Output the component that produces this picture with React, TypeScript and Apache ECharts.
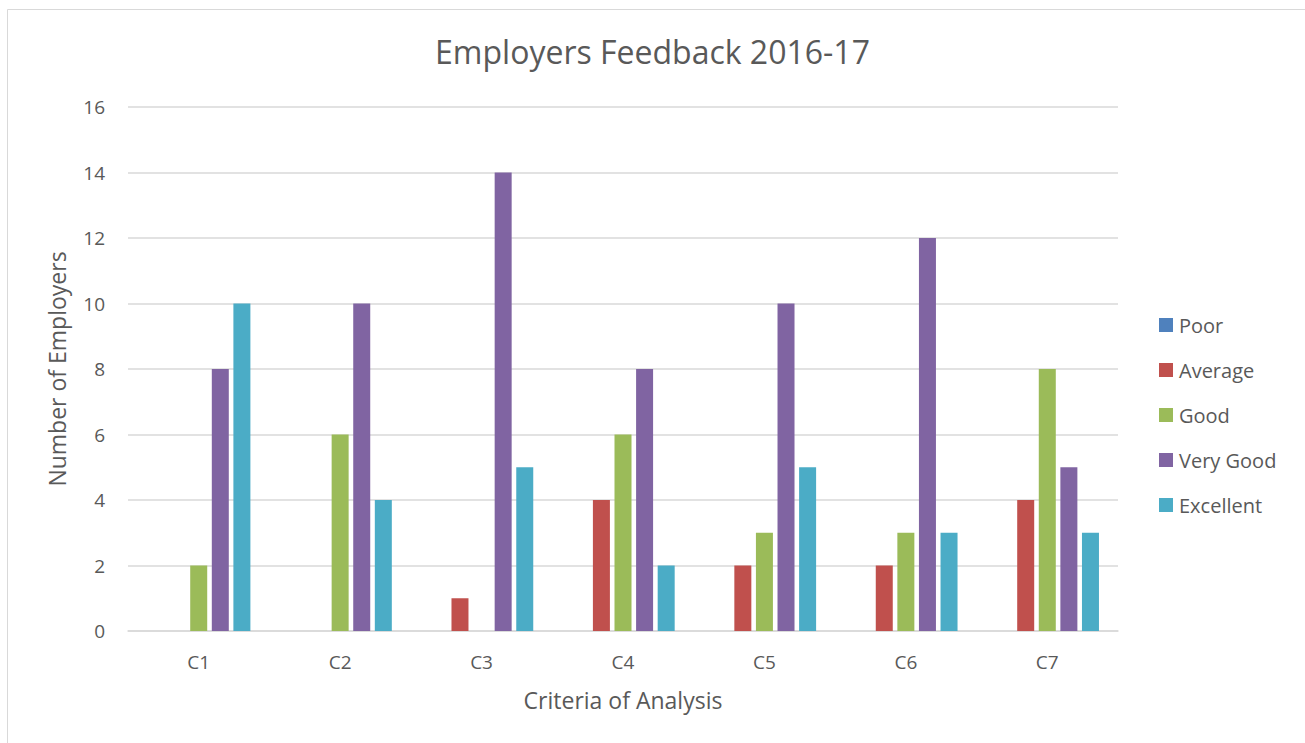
import React, { useEffect, useRef } from "react";
import * as echarts from "echarts";

const categories = ["C1", "C2", "C3", "C4", "C5", "C6", "C7"];
const poor = [0, 0, 0, 0, 0, 0, 0];
const average = [0, 0, 1, 4, 2, 2, 4];
const good = [2, 6, 0, 6, 3, 3, 8];
const veryGood = [8, 10, 14, 8, 10, 12, 5];
const excellent = [10, 4, 5, 2, 5, 3, 3];
const seriesNames = ["Poor", "Average", "Good", "Very Good", "Excellent"];
const seriesColors = ["#4F81BD", "#C0504D", "#9BBB59", "#8064A2", "#4BACC6"];

const FONT = "Open Sans";
const TEXT = "#595959";

export default function App() {
  const ref = useRef<HTMLDivElement>(null);
  useEffect(() => {
    if (!ref.current) return;
    const chart = echarts.init(ref.current, null, { renderer: "svg" });
    const data = [poor, average, good, veryGood, excellent];
    chart.setOption({
      animation: false,
      backgroundColor: "#ffffff",
      textStyle: { fontFamily: FONT },
      graphic: [
        {
          type: "rect",
          shape: { x: 7.5, y: 9.5, width: 1400, height: 800 },
          style: { fill: "none", stroke: "#d9d9d9", lineWidth: 1 },
          silent: true,
        },
      ],
      title: {
        text: "Employers Feedback 2016-17",
        left: "center",
        top: 30,
        textStyle: { fontFamily: FONT, fontSize: 32, fontWeight: "normal", color: TEXT },
      },
      legend: {
        orient: "vertical",
        left: 1159,
        top: 315,
        padding: 0,
        itemWidth: 14,
        itemHeight: 14,
        itemGap: 25,
        icon: "rect",
        data: seriesNames,
        textStyle: { fontFamily: FONT, fontSize: 20, color: TEXT, lineHeight: 20, padding: [0, 0, 0, 1] },
      },
      grid: { left: 128, right: 187, top: 107, bottom: 112, containLabel: false },
      xAxis: {
        type: "category",
        data: categories,
        name: "Criteria of Analysis",
        nameLocation: "middle",
        nameGap: 57,
        nameTextStyle: { fontFamily: FONT, fontSize: 23, color: TEXT },
        axisLine: { lineStyle: { color: "#d9d9d9", width: 1.5 } },
        axisTick: { show: false },
        axisLabel: { fontFamily: FONT, fontSize: 19, color: TEXT, margin: 21 },
      },
      yAxis: {
        type: "value",
        min: 0,
        max: 16,
        interval: 2,
        name: "Number of Employers",
        nameLocation: "middle",
        nameRotate: 90,
        nameGap: 60,
        nameTextStyle: { fontFamily: FONT, fontSize: 23, color: TEXT },
        axisLine: { show: false },
        axisTick: { show: false },
        axisLabel: { fontFamily: FONT, fontSize: 19, color: TEXT, margin: 23 },
        splitLine: { lineStyle: { color: "#d9d9d9", width: 1.5 } },
      },
      series: seriesNames.map((name, i) => ({
        name,
        type: "bar",
        data: data[i],
        barWidth: 17,
        barGap: "27%",
        itemStyle: { color: seriesColors[i] },
      })),
    });
    return () => chart.dispose();
  }, []);
  return (
    <div
      ref={ref}
      style={{ position: "fixed", left: 0, top: 0, width: 1305, height: 743 }}
    />
  );
}
